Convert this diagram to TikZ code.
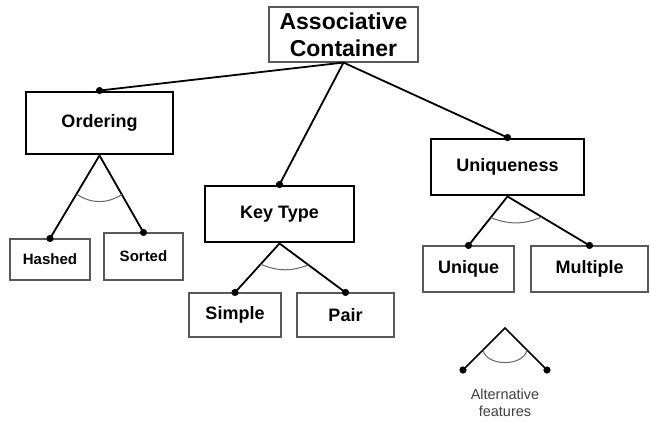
\documentclass[tikz,border=0pt]{standalone}
\usepackage{fontspec}
\setmainfont{Liberation Sans}
\usetikzlibrary{positioning,calc}

\begin{document}
\begin{tikzpicture}[x=1pt,y=-1pt,
  leaf/.style={draw=black!65, line width=1.1pt, inner sep=0pt, font=\bfseries\fontsize{18}{20}\selectfont},
  group/.style={draw, line width=2.9pt, inner sep=0pt, font=\bfseries\fontsize{18}{20}\selectfont},
  link/.style={line width=1.8pt},
  altarc/.style={draw=black!60, line width=1pt}]
\useasboundingbox (0,0) rectangle (650,421);

% Root
\node[leaf, align=center, minimum width=149pt, minimum height=55pt,
  font=\bfseries\fontsize{23}{27}\selectfont] (root) at (343.5,34.5) {Associative\\Container};

% Feature groups
\node[group, minimum width=147pt, minimum height=62pt] (ord) at (99.5,123) {Ordering};
\node[group, minimum width=149pt, minimum height=56pt] (key) at (279.5,214) {Key Type};
\node[group, minimum width=153pt, minimum height=56pt] (uniq) at (507.5,167) {Uniqueness};

% Leaves
\node[leaf, minimum width=80pt, minimum height=41pt, font=\bfseries\fontsize{15}{17}\selectfont] (hash) at (50,259.5) {Hashed};
\node[leaf, minimum width=79pt, minimum height=47pt, font=\bfseries\fontsize{15}{17}\selectfont] (sort) at (143.5,256.5) {Sorted};
\node[leaf, minimum width=92pt, minimum height=44pt] (simp) at (235,315) {Simple};
\node[leaf, minimum width=97pt, minimum height=44pt] (pair) at (345.5,315) {Pair};
\node[leaf, minimum width=91pt, minimum height=46pt] (uni) at (468.5,269) {Unique};
\node[leaf, minimum width=117pt, minimum height=46pt] (mult) at (589.5,269) {Multiple};

% Root links
\draw[link] (root.south) -- (ord.north);
\draw[link] (root.south) -- (key.north);
\draw[link] (root.south) -- (uniq.north);
\fill (ord.north) circle[radius=3.6pt];
\fill (key.north) circle[radius=3.6pt];
\fill (uniq.north) circle[radius=3.6pt];

% Ordering alternatives
\draw[link] (ord.south) -- (hash.north);
\draw[link] (ord.south) -- (sort.north);
\fill (hash.north) circle[radius=3.6pt];
\fill (sort.north) circle[radius=3.6pt];
\draw[altarc] ($(ord.south)!45pt!(hash.north)$) to[bend right=33] ($(ord.south)!45pt!(sort.north)$);

% Key Type alternatives
\draw[link] (key.south) -- (simp.north);
\draw[link] (key.south) -- (pair.north);
\fill (simp.north) circle[radius=3.6pt];
\fill (pair.north) circle[radius=3.6pt];
\draw[altarc] ($(key.south)!28pt!(simp.north)$) to[bend right=22] ($(key.south)!36pt!(pair.north)$);

% Uniqueness alternatives
\draw[link] (uniq.south) -- (uni.north);
\draw[link] (uniq.south) -- (mult.north);
\fill (uni.north) circle[radius=3.6pt];
\fill (mult.north) circle[radius=3.6pt];
\draw[altarc] ($(uniq.south)!27pt!(uni.north)$) to[bend right=22] ($(uniq.south)!40pt!(mult.north)$);

% Legend
\coordinate (lgtop) at (505,328);
\coordinate (lgleft) at (463,370);
\coordinate (lgright) at (547,370);
\draw[line width=1.5pt] (lgleft) -- (lgtop) -- (lgright);
\fill (lgleft) circle[radius=3.6pt];
\fill (lgright) circle[radius=3.6pt];
\draw[altarc] ($(lgtop)!31pt!(lgleft)$) to[bend right=80] ($(lgtop)!31pt!(lgright)$);
\node[align=center, text=black!75, font=\fontsize{14.5}{17}\selectfont] (lgtext) at (505,403) {Alternative\\features};
\end{tikzpicture}
\end{document}
